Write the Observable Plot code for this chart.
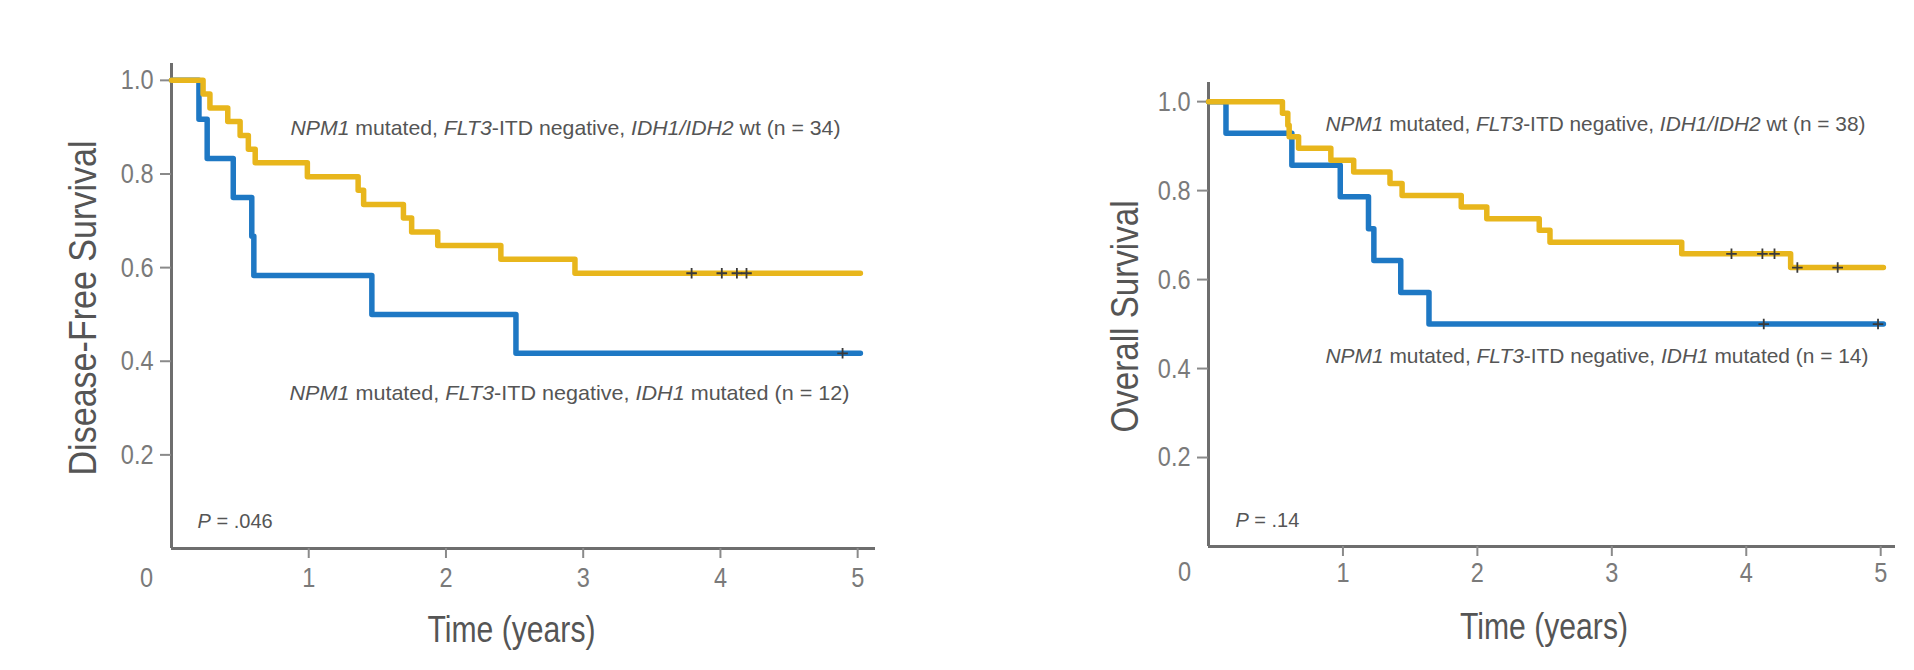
<!DOCTYPE html>
<html><head><meta charset="utf-8">
<script src="https://cdn.jsdelivr.net/npm/d3@7"></script>
<script src="https://cdn.jsdelivr.net/npm/@observablehq/plot@0.6"></script>
<style>
html,body{margin:0;padding:0;background:#fff;}
#wrap{display:flex;width:1914px;height:670px;overflow:hidden;}
#wrap svg{display:block;flex:none;}
</style></head><body><div id="wrap"></div>
<script>
// ---------- data ----------
const xTicks = [1, 2, 3, 4, 5];
const yTicks = [0.2, 0.4, 0.6, 0.8, 1.0];
const originLabel = "0";
const followUpEnd = 5.02;

// Panel A: disease-free survival
const dfsWtTimes  = [0.23, 0.28, 0.41, 0.50, 0.56, 0.61, 0.99, 1.36, 1.40, 1.69, 1.75, 1.94, 2.40, 2.94];
const dfsWtSurv   = [0.971, 0.941, 0.912, 0.882, 0.853, 0.824, 0.794, 0.765, 0.735, 0.706, 0.676, 0.647, 0.618, 0.588];
const dfsWtCensor = [3.79, 4.01, 4.12, 4.19];
const dfsMutTimes  = [0.20, 0.26, 0.45, 0.585, 0.60, 1.46, 2.51];
const dfsMutSurv   = [0.917, 0.833, 0.750, 0.667, 0.583, 0.500, 0.417];
const dfsMutCensor = [4.89];

// Panel B: overall survival
const osWtTimes  = [0.55, 0.59, 0.60, 0.67, 0.91, 1.08, 1.35, 1.44, 1.88, 2.07, 2.46, 2.54, 3.52, 4.33];
const osWtSurv   = [0.974, 0.947, 0.921, 0.895, 0.868, 0.842, 0.816, 0.789, 0.763, 0.737, 0.711, 0.684, 0.658, 0.627];
const osWtCensor = [3.89, 4.12, 4.21, 4.38, 4.68];
const osMutTimes  = [0.13, 0.62, 0.98, 1.19, 1.23, 1.43, 1.64];
const osMutSurv   = [0.929, 0.857, 0.786, 0.714, 0.643, 0.571, 0.500];
const osMutCensor = [4.13, 4.98];

const dfsTitles = {x: "Time (years)", y: "Disease-Free Survival"};
const osTitles  = {x: "Time (years)", y: "Overall Survival"};
const dfsLabels = {wt: "NPM1 mutated, FLT3-ITD negative, IDH1/IDH2 wt (n = 34)", mut: "NPM1 mutated, FLT3-ITD negative, IDH1 mutated (n = 12)", p: "P = .046"};
const osLabels  = {wt: "NPM1 mutated, FLT3-ITD negative, IDH1/IDH2 wt (n = 38)", mut: "NPM1 mutated, FLT3-ITD negative, IDH1 mutated (n = 14)", p: "P = .14"};

const colors = {wt: "#E8B61C", mut: "#1E78C4"};

// ---------- helpers ----------
const sans = "'Liberation Sans', Arial, Helvetica, sans-serif";

function kmPoints(times, surv) {
  const pts = [{t: 0, s: 1}];
  times.forEach((t, i) => pts.push({t, s: surv[i]}));
  pts.push({t: followUpEnd, s: surv[surv.length - 1]});
  return pts;
}
function survAt(times, surv, t) {
  let s = 1;
  times.forEach((ti, i) => { if (ti <= t) s = surv[i]; });
  return s;
}
function censorPoints(ctimes, times, surv) {
  return ctimes.map(t => ({t, s: survAt(times, surv, t)}));
}

function panel(o) {
  const wt = kmPoints(o.wtTimes, o.wtSurv);
  const mut = kmPoints(o.mutTimes, o.mutSurv);
  const cens = censorPoints(o.wtCensor, o.wtTimes, o.wtSurv)
    .concat(censorPoints(o.mutCensor, o.mutTimes, o.mutSurv));
  const svg = Plot.plot({
    width: 957, height: 670,
    marginLeft: o.ml, marginRight: o.mr, marginTop: o.mt, marginBottom: o.mb,
    x: {domain: [0, o.xMax]},
    y: {domain: [0, o.yMax]},
    style: {fontFamily: sans, background: "#fff", color: "#666", overflow: "visible"},
    marks: [
      Plot.ruleY([0], {stroke: "#6e6e6e", strokeWidth: 3}),
      Plot.ruleX([0], {stroke: "#6e6e6e", strokeWidth: 3}),
      Plot.axisX({ticks: xTicks, tickSize: 10, tickPadding: o.xPad, tickFormat: d3.format("d"),
        fontSize: 28, stroke: "#8a8a8a", strokeWidth: 2, fill: "#7a7a7a", label: null, className: "cond"}),
      Plot.axisY({ticks: yTicks, tickSize: 11, tickPadding: 7, tickFormat: d3.format(".1f"),
        fontSize: 28, stroke: "#8a8a8a", strokeWidth: 2, fill: "#7a7a7a", label: null, className: "cond"}),
      Plot.text([{t: 0, s: 0, label: originLabel}], {x: "t", y: "s", text: "label",
        dx: o.zeroDx, dy: o.zeroDy, fontSize: 28, fill: "#7a7a7a", className: "cond"}),
      Plot.line(mut, {x: "t", y: "s", curve: "step-after", stroke: colors.mut, strokeWidth: 5.5}),
      Plot.line(wt, {x: "t", y: "s", curve: "step-after", stroke: colors.wt, strokeWidth: 5.5}),
      Plot.dot(cens, {x: "t", y: "s", symbol: "plus", r: 3.5, stroke: "#3a3a3a", strokeWidth: 1.8}),
      Plot.text([{t: o.wtLab[0], s: o.wtLab[1], label: o.labels.wt}], {x: "t", y: "s", text: "label",
        textAnchor: "start", fontSize: 21, fill: "#555", className: "annot-wt"}),
      Plot.text([{t: o.mutLab[0], s: o.mutLab[1], label: o.labels.mut}], {x: "t", y: "s", text: "label",
        textAnchor: "start", fontSize: 21, fill: "#555", className: "annot-mut"}),
      Plot.text([{t: o.pLab[0], s: o.pLab[1], label: o.labels.p}], {x: "t", y: "s", text: "label",
        textAnchor: "start", fontSize: 20, fill: "#555", className: "annot-p"}),
      Plot.text([o.titles.x], {frameAnchor: "bottom", textAnchor: "middle", lineAnchor: "middle",
        dx: o.xTitleDx, dy: o.xTitleDy, fontSize: 36, fill: "#555", className: "xtitle"}),
      Plot.text([o.titles.y], {frameAnchor: "left", rotate: -90, textAnchor: "middle", lineAnchor: "middle",
        dx: o.yTitleDx, dy: o.yTitleDy, fontSize: 38, fill: "#555", className: "ytitle"})
    ]
  });
  // italicise gene names and P
  d3.select(svg).selectAll("g.annot-wt text, g.annot-mut text, g.annot-p text").each(function() {
    const el = d3.select(this);
    const txt = el.text();
    el.text(null);
    txt.split(/(NPM1|FLT3|IDH1\/IDH2|IDH1|^P)/).filter(s => s.length).forEach(part => {
      const ts = el.append("tspan").text(part);
      if (/^(NPM1|FLT3|IDH1\/IDH2|IDH1|P)$/.test(part)) ts.attr("font-style", "italic");
    });
  });
  return svg;
}

// condensed look: compress glyphs horizontally (no narrow font installed)
function condense(svg, o) {
  const s = d3.select(svg);
  s.selectAll("g.cond text").each(function() {
    const len = this.getComputedTextLength();
    if (len > 0) d3.select(this).attr("textLength", len * 0.84).attr("lengthAdjust", "spacingAndGlyphs");
  });
  const fit = (cls, len) => s.selectAll(`g.${cls} text`).attr("textLength", len).attr("lengthAdjust", "spacingAndGlyphs");
  fit("xtitle", o.xTitleLen);
  fit("ytitle", o.yTitleLen);
  fit("annot-wt", o.wtLen);
  fit("annot-mut", o.mutLen);
}

const wrap = document.getElementById("wrap");
const panels = [
  {
    ml: 171, mr: 82, mt: 63, mb: 122, xMax: 5.13, yMax: 1.036, xPad: 9,
    zeroDx: -25, zeroDy: 30,
    wtTimes: dfsWtTimes, wtSurv: dfsWtSurv, wtCensor: dfsWtCensor,
    mutTimes: dfsMutTimes, mutSurv: dfsMutSurv, mutCensor: dfsMutCensor,
    labels: dfsLabels, titles: dfsTitles,
    wtLab: [0.867, 0.897], mutLab: [0.86, 0.331], pLab: [0.19, 0.058],
    xTitleDx: -12, xTitleDy: 82, yTitleDx: -88, yTitleDy: 2,
    xTitleLen: 168, yTitleLen: 335, wtLen: 550, mutLen: 560
  },
  {
    ml: 251, mr: 19, mt: 82, mb: 124, xMax: 5.11, yMax: 1.043, xPad: 6,
    zeroDx: -24, zeroDy: 26,
    wtTimes: osWtTimes, wtSurv: osWtSurv, wtCensor: osWtCensor,
    mutTimes: osMutTimes, mutSurv: osMutSurv, mutCensor: osMutCensor,
    labels: osLabels, titles: osTitles,
    wtLab: [0.87, 0.95], mutLab: [0.87, 0.427], pLab: [0.2, 0.058],
    xTitleDx: -8, xTitleDy: 81, yTitleDx: -83, yTitleDy: 2,
    xTitleLen: 168, yTitleLen: 232, wtLen: 540, mutLen: 543
  }
];
panels.forEach(o => {
  const svg = panel(o);
  wrap.appendChild(svg);
  condense(svg, o);
});
</script>
</body></html>
